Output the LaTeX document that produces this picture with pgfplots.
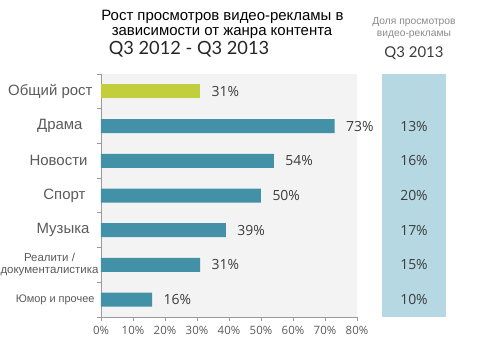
\documentclass[border=0pt]{standalone}
\usepackage{fontspec}
\setmainfont{Liberation Sans}
\newfontfamily\valfont{Open Sans}
\newfontfamily\qfont{Lato}
\usepackage{pgfplots}
\pgfplotsset{compat=1.18}
\definecolor{barteal}{HTML}{4391A6}
\definecolor{bargreen}{HTML}{C2CE3C}
\definecolor{bggray}{HTML}{F3F3F3}
\definecolor{panelblue}{HTML}{B5D8E2}
\definecolor{axisgray}{HTML}{9A9A9A}
\definecolor{labgray}{HTML}{5A5A5A}
\definecolor{valgray}{HTML}{3C3C3C}
\definecolor{headgray}{HTML}{8A8A8A}
\begin{document}
\begin{tikzpicture}
\begin{axis}[
  at={(0,0)}, anchor=south west,
  scale only axis, width=256bp, height=243bp,
  xmin=0, xmax=80, ymin=0.5, ymax=7.5,
  xbar, bar width=14bp, bar shift=0pt,
  axis x line*=bottom, axis y line*=left,
  axis line style={color=axisgray, line width=0.8pt},
  axis background/.style={fill=bggray},
  /pgf/number format/assume math mode=true,
  xtick={0,10,...,80},
  xticklabel={\pgfmathprintnumber{\tick}\%},
  xticklabel style={font=\valfont\fontsize{11.5}{12}\selectfont, text=labgray, yshift=-2bp},
  tick align=outside, major tick length=4bp, minor tick length=4bp,
  major x tick style={draw=axisgray, line width=0.8pt},
  major y tick style={draw=none},
  minor y tick style={draw=axisgray, line width=0.8pt},
  ytick={1,...,7},
  minor ytick={0.5,1.5,...,7.5},
  yticklabels={
    {\fontsize{11}{13}\selectfont Юмор и прочее\kern-5bp},
    {\fontsize{11.5}{13}\selectfont\begin{tabular}{@{}c@{}}Реалити /\\документалистика\end{tabular}\kern-9bp},
    {\fontsize{15}{17}\selectfont Музыка},
    {\fontsize{15}{17}\selectfont Спорт\kern4bp},
    {\fontsize{15}{17}\selectfont Новости\kern2bp},
    {\fontsize{15}{17}\selectfont Драма\kern7bp},
    {\fontsize{15}{17}\selectfont Общий рост\kern-3bp}},
  yticklabel style={text=labgray, xshift=-4bp},
  clip=false,
  nodes near coords={\pgfmathprintnumber{\pgfplotspointmeta}\%},
  nodes near coords style={font=\valfont\fontsize{14}{14}\selectfont, text=valgray, anchor=west, xshift=8bp},
]
\fill[panelblue] (axis cs:87.8125,0.5) rectangle (axis cs:107.8125,7.5);
\addplot[fill=bargreen, draw=none] coordinates {(31,7)};
\addplot[fill=barteal, draw=none] coordinates {(73,6) (54,5) (50,4) (39,3) (31,2) (16,1)};
\foreach \v/\k in {13/6,16/5,20/4,17/3,15/2,10/1}{
  \edef\tmp{\noexpand\node[font=\noexpand\valfont\noexpand\fontsize{14}{14}\noexpand\selectfont, text=valgray] at (axis cs:97.8125,\k) {\v\noexpand\%};}
  \tmp
}
\end{axis}
\node[font=\fontsize{15}{17}\selectfont] at (121.5bp,300bp) {Рост просмотров видео-рекламы в};
\node[font=\fontsize{15}{17}\selectfont] at (121bp,284bp) {зависимости от жанра контента};
\node[font=\qfont\fontsize{18.3}{20}\selectfont, text=black!85] at (88bp,268bp) {Q3 2012 - Q3 2013};
\node[font=\fontsize{10.3}{12}\selectfont, text=headgray] at (313bp,295bp) {Доля просмотров};
\node[font=\fontsize{10.3}{12}\selectfont, text=headgray] at (313bp,282bp) {видео-рекламы};
\node[font=\qfont\fontsize{15}{17}\selectfont, text=valgray] at (313bp,264bp) {Q3 2013};
\pgfresetboundingbox
\useasboundingbox (-101bp,-37bp) rectangle (379bp,317bp);
\end{tikzpicture}
\end{document}
